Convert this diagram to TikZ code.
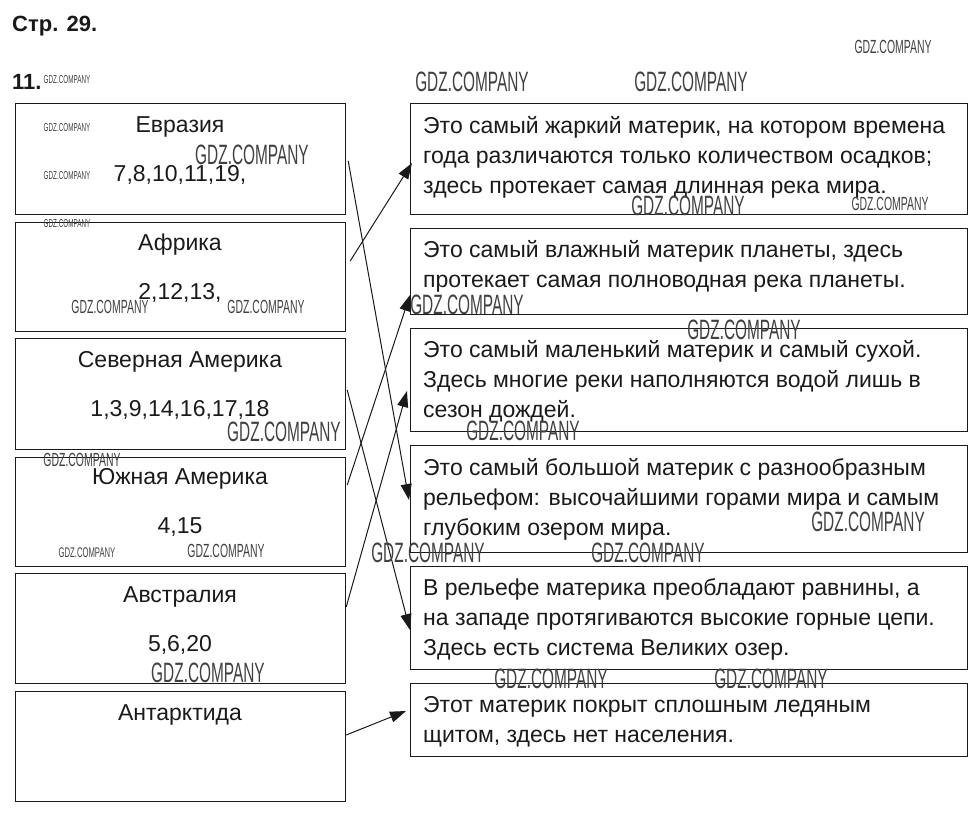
\documentclass[tikz,border=0pt]{standalone}
\usepackage{fontspec}
\setmainfont{Liberation Sans}
\newfontfamily\wmfont[FakeStretch=0.55]{Liberation Sans}
\usetikzlibrary{arrows.meta,calc}
\definecolor{ink}{HTML}{1A1A1A}
\tikzset{
  box/.style={draw=ink, line width=1.2pt, rectangle, inner sep=0pt, anchor=north west},
  lbox/.style={box, minimum width=330pt},
  rbox/.style={box, minimum width=557pt},
  title/.style={anchor=base, inner sep=0pt, text=ink, font=\fontsize{23}{30}\selectfont},
  desc/.style={anchor=north west, inner sep=0pt, align=left, text=ink, font=\fontsize{23}{30}\selectfont},
  wm/.style={inner sep=0pt, text=black!75, font=\wmfont\fontsize{#1}{#1}\selectfont},
  wm/.default=28,
  link/.style={draw=ink, line width=1pt, -{Triangle[length=16pt,width=11pt]}},
  head/.style={anchor=base west, inner sep=0pt, text=ink, font=\bfseries\fontsize{22}{24}\selectfont}
}
\begin{document}
\begin{tikzpicture}[x=1pt,y=-1pt]
\useasboundingbox (0,0) rectangle (979,819);
\node[head] (page) at (12,31) {Стр. 29.};
\node[head] (num) at (12,89) {11.};

% left boxes
\node[lbox, minimum height=111pt] (l1) at (15,103) {};
\node[lbox, minimum height=109pt] (l2) at (15,222) {};
\node[lbox, minimum height=111pt] (l3) at (15,338) {};
\node[lbox, minimum height=109pt] (l4) at (15,457) {};
\node[lbox, minimum height=110pt] (l5) at (15,573) {};
\node[lbox, minimum height=110pt] (l6) at (15,691) {};

\node[title] (t1) at (180,132) {Евразия};
\node[title] (n1) at (180,181) {7,8,10,11,19,};
\node[title] (t2) at (180,250) {Африка};
\node[title] (n2) at (180,299) {2,12,13,};
\node[title] (t3) at (180,367) {Северная Америка};
\node[title] (n3) at (180,416) {1,3,9,14,16,17,18};
\node[title] (t4) at (180,484) {Южная Америка};
\node[title] (n4) at (180,533) {4,15};
\node[title] (t5) at (180,602) {Австралия};
\node[title] (n5) at (180,651) {5,6,20};
\node[title] (t6) at (180,720) {Антарктида};

% right boxes
\node[rbox, minimum height=111pt] (r1) at (410,103) {};
\node[rbox, minimum height=86pt] (r2) at (410,228) {};
\node[rbox, minimum height=103pt] (r3) at (410,328) {};
\node[rbox, minimum height=107pt] (r4) at (410,445) {};
\node[rbox, minimum height=103pt] (r5) at (410,566) {};
\node[rbox, minimum height=73pt] (r6) at (410,683) {};

\node[desc] (d1) at (423,112) {\strut Это самый жаркий материк, на котором времена\\ \strut года различаются только количеством осадков;\\ \strut здесь протекает самая длинная река мира.};
\node[desc] (d2) at (423,236) {\strut Это самый влажный материк планеты, здесь\\ \strut протекает самая полноводная река планеты.};
\node[desc] (d3) at (423,336) {\strut Это самый маленький материк и самый сухой.\\ \strut Здесь многие реки наполняются водой лишь в\\ \strut сезон дождей.};
\node[desc] (d4) at (423,454) {\strut Это самый большой материк с разнообразным\\ \strut рельефом: высочайшими горами мира и самым\\ \strut глубоким озером мира.};
\node[desc] (d5) at (423,574) {\strut В рельефе материка преобладают равнины, а\\ \strut на западе протягиваются высокие горные цепи.\\ \strut Здесь есть система Великих озер.};
\node[desc] (d6) at (423,691) {\strut Этот материк покрыт сплошным ледяным\\ \strut щитом, здесь нет населения.};

% connectors
\draw[link] ($(l1.north east)+(2,58)$) -- ($(r4.north west)+(-1,55)$);
\draw[link] ($(l2.north east)+(4,39)$) -- ($(r1.north west)+(2,60)$);
\draw[link] ($(l3.north east)+(1,52)$) -- ($(r5.north west)+(0,64)$);
\draw[link] ($(l4.north east)+(1,28)$) -- ($(r2.north west)+(0,67)$);
\draw[link] ($(l5.north east)+(0,34)$) -- ($(r3.north west)+(-3,63)$);
\draw[link] ($(l6.north east)+(0,44)$) -- ($(r6.north west)+(-4,28)$);

% watermarks
\node[wm=11.5] (w1) at (67,80) {GDZ.COMPANY};
\node[wm=19] (w2) at (893,47) {GDZ.COMPANY};
\node[wm] (w3) at (472,82) {GDZ.COMPANY};
\node[wm] (w4) at (691,82) {GDZ.COMPANY};
\node[wm=11.5] (w5) at (67,128) {GDZ.COMPANY};
\node[wm] (w6) at (252,155) {GDZ.COMPANY};
\node[wm=11.5] (w7) at (67,176) {GDZ.COMPANY};
\node[wm=11.5] (w8) at (67,224) {GDZ.COMPANY};
\node[wm] (w9) at (688,206) {GDZ.COMPANY};
\node[wm=19] (w10) at (890,204) {GDZ.COMPANY};
\node[wm=19] (w11) at (110,307) {GDZ.COMPANY};
\node[wm=19] (w12) at (266,307) {GDZ.COMPANY};
\node[wm] (w13) at (467,305) {GDZ.COMPANY};
\node[wm] (w14) at (744,330) {GDZ.COMPANY};
\node[wm] (w15) at (284,432) {GDZ.COMPANY};
\node[wm] (w16) at (523,431) {GDZ.COMPANY};
\node[wm=19] (w17) at (82,460) {GDZ.COMPANY};
\node[wm=14] (w18) at (87,553) {GDZ.COMPANY};
\node[wm=19] (w19) at (226,551) {GDZ.COMPANY};
\node[wm] (w20) at (428,553) {GDZ.COMPANY};
\node[wm] (w21) at (648,553) {GDZ.COMPANY};
\node[wm] (w22) at (868,522) {GDZ.COMPANY};
\node[wm] (w23) at (208,673) {GDZ.COMPANY};
\node[wm] (w24) at (551,679) {GDZ.COMPANY};
\node[wm] (w25) at (771,679) {GDZ.COMPANY};
\end{tikzpicture}
\end{document}
